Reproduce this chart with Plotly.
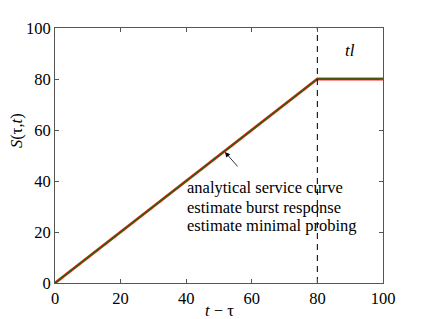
import plotly.graph_objects as go

t = [0, 80, 100]
analytical = [0, 80, 80]
burst = [0, 80, 80]
probing = [0, 80, 80]
legend_labels = ["analytical service curve", "estimate burst response", "estimate minimal probing"]
x_ticks = [0, 20, 40, 60, 80, 100]
y_ticks = [0, 20, 40, 60, 80, 100]

font = "Liberation Serif, Times New Roman, serif"
fig = go.Figure()
fig.add_trace(go.Scatter(x=t, y=analytical, mode="lines", line=dict(color="#ff2020", width=2.8), name=legend_labels[0]))
fig.add_trace(go.Scatter(x=t, y=burst, mode="lines", line=dict(color="#1f6a08", width=1.5), name=legend_labels[1]))
fig.add_trace(go.Scatter(x=t, y=probing, mode="lines", line=dict(color="#2a5a10", width=0.5), name=legend_labels[2]))
fig.add_trace(go.Scatter(x=[80, 80], y=[0, 100], mode="lines", line=dict(color="#222", width=1.2, dash="6px,5px"), showlegend=False))

ann = []
for i, lab in enumerate(legend_labels):
    ann.append(dict(x=39.6, y=[37.3, 29.8, 22.4][i], text=lab, showarrow=False, xanchor="left", yanchor="middle",
                    font=dict(family=font, size=16.5, color="#000")))
ann.append(dict(x=51.8, y=51.4, ax=14, ay=16, text="", showarrow=True, arrowhead=2, arrowsize=1.3, arrowwidth=0.8, arrowcolor="#000"))
ann.append(dict(x=90, y=91, text="<i>tl</i>", showarrow=False, font=dict(family=font, size=17, color="#000")))
ann.append(dict(x=0.5, y=-0.106, xref="paper", yref="paper", text="<i>t</i> − τ", showarrow=False,
                xanchor="center", yanchor="middle", font=dict(family=font, size=16.5, color="#000")))
ann.append(dict(x=-0.119, y=0.6, xref="paper", yref="paper", text="<i>S</i>(τ,<i>t</i>)", showarrow=False, textangle=-90,
                xanchor="center", yanchor="middle", font=dict(family=font, size=16.5, color="#000")))

fig.update_layout(
    width=416, height=311, margin=dict(l=47, r=41, t=20, b=36, autoexpand=False),
    plot_bgcolor="white", paper_bgcolor="white", showlegend=False,
    font=dict(family=font, size=16.5, color="#000"),
    annotations=ann,
    xaxis=dict(range=[0, 100], tickvals=x_ticks, ticks="inside", ticklen=4, tickcolor="#555", showline=True, linecolor="#555",
               linewidth=1, mirror="ticks", showgrid=False, zeroline=False, automargin=False),
    yaxis=dict(range=[0, 100], tickvals=y_ticks, ticks="inside", ticklen=4, tickcolor="#555", showline=True, linecolor="#555",
               linewidth=1, mirror="ticks", showgrid=False, zeroline=False, automargin=False),
)
fig.write_html("out.html")
